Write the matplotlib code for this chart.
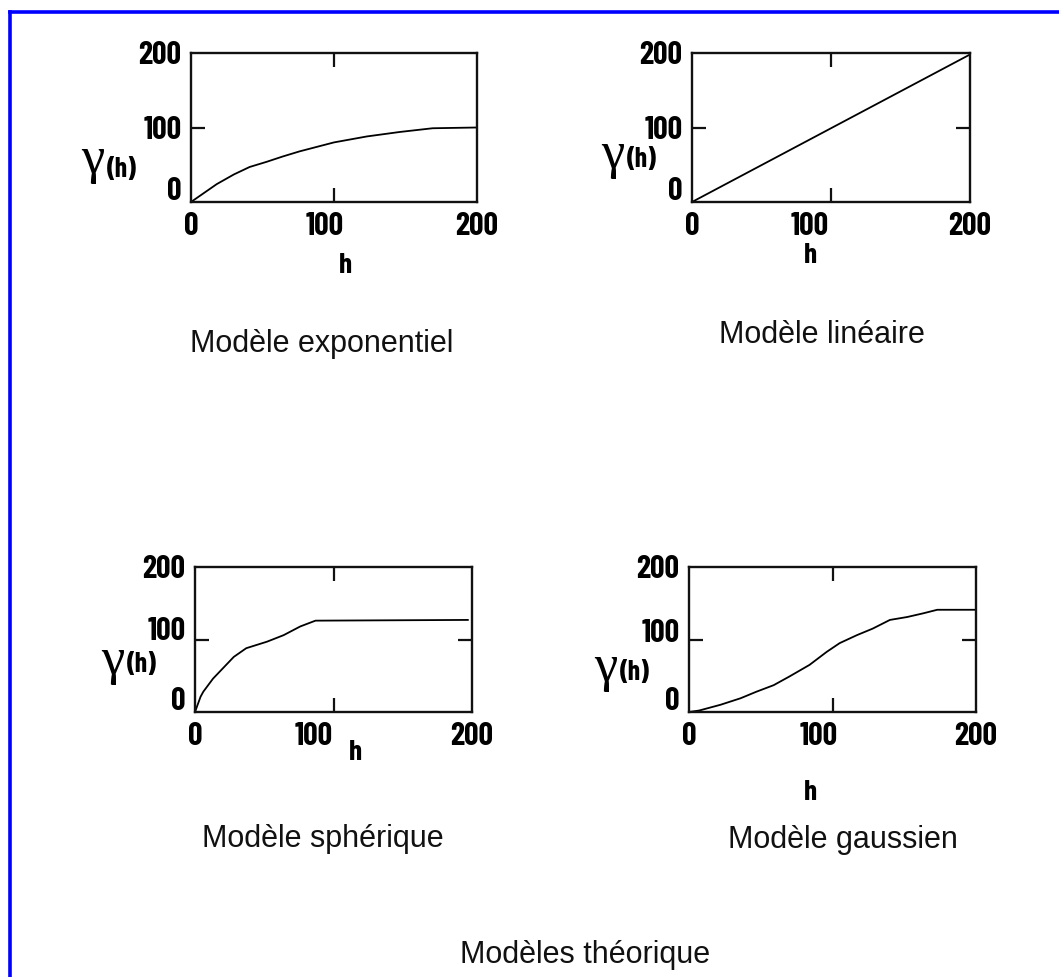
import matplotlib
matplotlib.use('Agg')
import matplotlib.pyplot as plt
from matplotlib.font_manager import FontProperties
from matplotlib.lines import Line2D
from matplotlib.transforms import ScaledTranslation

# Variogrammes théoriques (h, gamma(h))
exp_h = [0, 6, 18, 30, 41, 53, 64, 76, 88, 100, 123, 146, 169, 200]
exp_g = [0, 8, 24, 37, 47, 54, 61, 68, 74, 80, 88, 94, 99, 100]

lin_h = [0, 200]
lin_g = [0, 198]

sph_h = [0, 4, 6, 13, 18, 28, 37, 52, 64, 76, 87, 197]
sph_g = [0, 21, 28, 46, 56, 76, 88, 97, 106, 118, 126, 127]

gau_h = [0, 7, 22, 36, 47, 59, 70, 84, 96, 105, 117, 128, 140, 152, 163, 173, 200]
gau_g = [0, 2, 10, 19, 28, 37, 49, 65, 83, 95, 106, 115, 127, 131, 136, 141, 141]

titles = ['Modèle exponentiel', 'Modèle linéaire', 'Modèle sphérique', 'Modèle gaussien']
main_title = 'Modèles théorique'
tick_vals = [0, 100, 200]
tick_labels = ['0', '100', '200']

W, H = 1059, 977
fig = plt.figure(figsize=(W / 100, H / 100), dpi=100)
fig.patch.set_facecolor('white')


def fx(px):
    return px / W


def fy(py):
    return 1 - py / H


# police grasse étroite (DejaVu Sans condensé si Barlow manque)
def bold_font(size):
    return FontProperties(family=['Barlow Condensed', 'DejaVu Sans'], weight='bold',
                          stretch='condensed', size=size)


def shift(label, dx, dy):
    # décalage en pixels (l'original est dessiné à la main)
    label.set_transform(label.get_transform()
                        + ScaledTranslation(dx / 100, dy / 100, fig.dpi_scale_trans))


# cadre bleu
fig.add_artist(Line2D([fx(10), 1.0], [fy(11.5), fy(11.5)], color='#0000ff', lw=2.6,
                      transform=fig.transFigure, solid_capstyle='projecting'))
fig.add_artist(Line2D([fx(10), fx(10)], [fy(11.5), 0.0], color='#0000ff', lw=2.6,
                      transform=fig.transFigure, solid_capstyle='projecting'))

series = [(exp_h, exp_g), (lin_h, lin_g), (sph_h, sph_g), (gau_h, gau_g)]
# boîtes des axes en pixels : gauche, haut, droite, bas
boxes = [(191, 53, 477, 202), (692, 53, 970, 202), (195, 567, 472, 712), (689, 567, 976, 712)]
right_tick = [False, True, True, True]
# décalage des étiquettes "100" (x vers la gauche, y vers le haut)
x100_dx = [-9, -21, -20, -14]
y100_dy = [0, 0, 11, 9]
# position du titre de chaque modèle (centre, ligne de base)
title_pos = [(322, 352), (822, 343), (323, 847), (843, 848)]
# gamma et (h) : gauche de gamma, ligne de base gamma, gauche de (h), ligne de base (h)
ylab_pos = [(81, 173, 107, 177), (601, 168, 627, 167), (101, 674, 127, 672), (594, 681, 620, 680)]
# étiquette h : centre, ligne de base
xlab_pos = [(345, 273), (810, 263), (355, 760), (810, 800)]

for i, (h, g) in enumerate(series):
    l, t, r, b = boxes[i]
    ax = fig.add_axes([fx(l), fy(b), (r - l) / W, (b - t) / H])
    ax.plot(h, g, color='black', lw=1.3)
    ax.set_xlim(0, 200)
    ax.set_ylim(0, 200)
    for s in ax.spines.values():
        s.set_linewidth(1.7)
        s.set_color('#111111')

    ax.xaxis.remove_overlapping_locs = False
    ax.yaxis.remove_overlapping_locs = False
    ax.set_xticks(tick_vals)
    ax.set_yticks(tick_vals)
    ax.set_xticklabels(tick_labels)
    ax.set_yticklabels(tick_labels)
    ax.tick_params(which='major', length=0, pad=7)
    ax.set_xticks([100], minor=True)
    ax.set_yticks([100], minor=True)
    ax.tick_params(which='minor', direction='in', length=10, width=1.6,
                   top=True, right=right_tick[i], color='#111111')
    for lab in ax.get_xticklabels() + ax.get_yticklabels():
        lab.set_fontproperties(bold_font(23))
    ylabs = ax.get_yticklabels()
    xlabs = ax.get_xticklabels()
    shift(ylabs[0], 0, 13)
    shift(ylabs[1], 0, y100_dy[i])
    shift(xlabs[1], x100_dx[i], 0)

    gx, gb, hx, hb = ylab_pos[i]
    fig.text(fx(gx), fy(gb), 'γ', family='Liberation Serif', size=38,
             ha='left', va='baseline')
    fig.text(fx(hx), fy(hb), '(h)', fontproperties=bold_font(20),
             ha='left', va='baseline')

    cx, cb = xlab_pos[i]
    fig.text(fx(cx), fy(cb), 'h', fontproperties=bold_font(21), ha='center', va='baseline')

    tx, tb = title_pos[i]
    fig.text(fx(tx), fy(tb), titles[i], family='Liberation Sans', size=22,
             ha='center', va='baseline', color='#111111')

fig.text(fx(585), fy(963), main_title, family='Liberation Sans', size=22,
         ha='center', va='baseline', color='#111111')

fig.savefig('out.png', dpi=100)
